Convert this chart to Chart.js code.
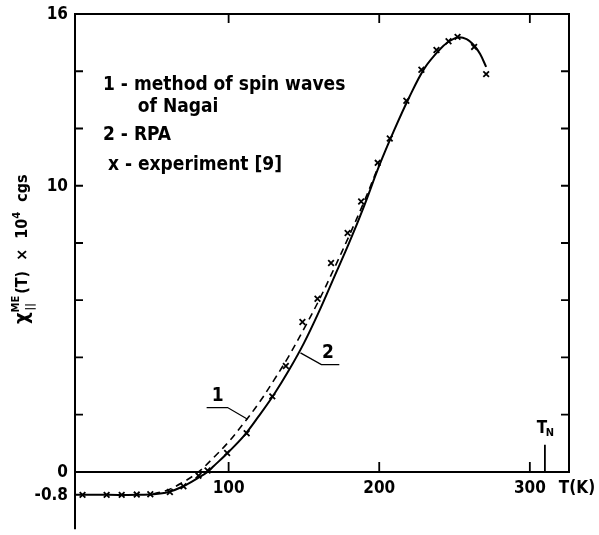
<!DOCTYPE html>
<html lang="en">
<head>
<meta charset="UTF-8">
<title>Longitudinal ME susceptibility</title>
<style>
  body { margin: 0; background: #fff; }
  canvas { display: block; }
</style>
<script src="https://cdn.jsdelivr.net/npm/chart.js"></script>
</head>
<body>
<canvas id="chi" width="599" height="535"></canvas>
<script>
// values: T in K, chi in 10^4 cgs
const expT   = [3, 19, 29, 39, 48, 61, 70, 80, 86, 99, 112, 129, 138, 149, 159, 168, 179, 188, 199, 207, 218, 228, 238, 246, 252, 263, 271];
const expChi = [-0.8, -0.8, -0.8, -0.79, -0.78, -0.7, -0.5, -0.13, 0.05, 0.66, 1.35, 2.64, 3.7, 5.24, 6.05, 7.3, 8.35, 9.45, 10.8, 11.65, 12.97, 14.05, 14.74, 15.05, 15.2, 14.85, 13.9];

// curve 2 - RPA (solid)
const rpaT   = [-2, 20, 40, 50, 60, 70, 80, 86, 90, 100, 110, 120, 130, 140, 150, 160, 170, 180, 190, 200, 210, 220, 230, 240, 246, 252, 258, 263, 267, 271];
const rpaChi = [-0.8, -0.8, -0.8, -0.78, -0.7, -0.5, -0.2, 0, 0.2, 0.7, 1.25, 1.95, 2.7, 3.55, 4.5, 5.6, 6.8, 8.0, 9.3, 10.7, 11.95, 13.1, 14.1, 14.75, 15.03, 15.18, 15.12, 14.9, 14.6, 14.15];

// curve 1 - spin waves of Nagai (dashed)
const swT   = [50, 60, 70, 80, 90, 100, 110, 120, 130, 140, 150, 160, 170, 180, 190, 200];
const swChi = [-0.77, -0.62, -0.35, 0, 0.5, 1.05, 1.7, 2.4, 3.2, 4.05, 5.0, 6.0, 7.1, 8.25, 9.45, 10.75];

const yTicks  = [2, 4, 6, 8, 10, 12, 14];
const yLabels = ['16', '10', '0', '-0.8'];
const xTicks  = [100, 200, 300];
const xLabels = ['100', '200', '300'];
const tNeel = 310;

const legendLines = [
  '1 - method of spin waves',
  'of Nagai',
  '2 - RPA',
  'x - experiment [9]'
];

const xMin = -2, xMax = 326, yMin = -2, yMax = 16;
const pts = (xs, ys) => xs.map((v, i) => ({ x: v, y: ys[i] }));

const FONT = '"DejaVu Sans Condensed", "DejaVu Sans", sans-serif';

const decor = {
  id: 'decor',
  afterDatasetsDraw(chart) {
    const { ctx, scales: { x, y } } = chart;
    const X = v => x.getPixelForValue(v), Y = v => y.getPixelForValue(v);
    ctx.save();
    ctx.strokeStyle = '#000';
    ctx.fillStyle = '#000';
    ctx.lineWidth = 2;

    // frame: left axis runs down to -2, box closes at chi = 0
    ctx.beginPath();
    ctx.moveTo(X(xMin), Y(yMin));
    ctx.lineTo(X(xMin), Y(yMax));
    ctx.lineTo(X(xMax), Y(yMax));
    ctx.lineTo(X(xMax), Y(0));
    ctx.lineTo(X(xMin), Y(0));
    ctx.stroke();

    // inward ticks
    ctx.lineWidth = 1.8;
    ctx.beginPath();
    yTicks.forEach(v => {
      ctx.moveTo(X(xMin), Y(v)); ctx.lineTo(X(xMin) + 8, Y(v));
      ctx.moveTo(X(xMax), Y(v)); ctx.lineTo(X(xMax) - 8, Y(v));
    });
    xTicks.forEach(v => {
      ctx.moveTo(X(v), Y(yMax)); ctx.lineTo(X(v), Y(yMax) + 9);
      ctx.moveTo(X(v), Y(0)); ctx.lineTo(X(v), Y(0) - 10);
    });
    ctx.moveTo(X(tNeel), Y(0)); ctx.lineTo(X(tNeel), Y(0.95));
    ctx.stroke();

    // tick labels
    ctx.font = 'bold 17px ' + FONT;
    ctx.textAlign = 'right';
    ctx.textBaseline = 'middle';
    yLabels.forEach(s => ctx.fillText(s, X(xMin) - 7, Y(parseFloat(s)) + 1));
    ctx.textAlign = 'center';
    xLabels.forEach(s => ctx.fillText(s, X(parseFloat(s)), Y(0) + 17));
    ctx.fillText('T(K)', 577, Y(0) + 17);

    // T_N marker
    ctx.fillText('T', X(tNeel) - 3, Y(1.5));
    ctx.font = 'bold 11px ' + FONT;
    ctx.fillText('N', X(tNeel) + 5, Y(1.5) + 4);

    // legend text
    ctx.font = 'bold 19px ' + FONT;
    ctx.textAlign = 'left';
    ctx.fillText(legendLines[0], X(16.6), Y(13.5));
    ctx.fillText(legendLines[1], X(39.7), Y(12.76));
    ctx.fillText(legendLines[2], X(16.6), Y(11.76));
    ctx.fillText(legendLines[3], X(19.9), Y(10.72));

    // curve labels with leaders
    ctx.textAlign = 'center';
    ctx.fillText('1', X(92.7), Y(2.64));
    ctx.fillText('2', X(166), Y(4.15));
    ctx.lineWidth = 1.3;
    ctx.beginPath();
    ctx.moveTo(X(85.4), Y(2.25)); ctx.lineTo(X(99.3), Y(2.25)); ctx.lineTo(X(112.6), Y(1.84));
    ctx.moveTo(X(173.5), Y(3.75)); ctx.lineTo(X(161.6), Y(3.75)); ctx.lineTo(X(147.7), Y(4.16));
    ctx.stroke();

    // rotated y title: chi_||^ME(T) x 10^4 cgs
    ctx.translate(22, 244);
    ctx.rotate(-Math.PI / 2);
    ctx.textAlign = 'left';
    ctx.textBaseline = 'middle';
    let cx = -80;
    ctx.font = 'bold 20px ' + FONT;
    ctx.fillText('χ', cx, 1);
    cx += ctx.measureText('χ').width;
    ctx.font = 'bold 11px ' + FONT;
    ctx.fillText('ME', cx, -6);
    ctx.fillText('||', cx + 2, 8);
    cx += ctx.measureText('ME').width + 2;
    ctx.font = 'bold 16px ' + FONT;
    const mid = '(T)  ×  10';
    ctx.fillText(mid, cx, 1);
    cx += ctx.measureText(mid).width;
    ctx.font = 'bold 11px ' + FONT;
    ctx.fillText('4', cx, -5);
    cx += ctx.measureText('4').width;
    ctx.font = 'bold 16px ' + FONT;
    ctx.fillText('  cgs', cx, 1);
    ctx.restore();
  }
};

new Chart(document.getElementById('chi'), {
  type: 'scatter',
  data: {
    datasets: [
      {
        label: 'RPA',
        data: pts(rpaT, rpaChi),
        showLine: true,
        borderColor: '#000',
        borderWidth: 2,
        pointRadius: 0,
        tension: 0.35
      },
      {
        label: 'spin waves',
        data: pts(swT, swChi),
        showLine: true,
        borderColor: '#000',
        borderWidth: 1.6,
        borderDash: [7, 5],
        pointRadius: 0,
        tension: 0.35
      },
      {
        label: 'experiment',
        data: pts(expT, expChi),
        showLine: false,
        pointStyle: 'crossRot',
        pointRadius: 4,
        borderColor: '#000',
        borderWidth: 1.8
      }
    ]
  },
  options: {
    responsive: false,
    animation: false,
    events: [],
    layout: { padding: { left: 75, right: 30, top: 14, bottom: 1 } },
    plugins: { legend: { display: false }, tooltip: { enabled: false } },
    scales: {
      x: { type: 'linear', min: xMin, max: xMax, display: false },
      y: { type: 'linear', min: yMin, max: yMax, display: false }
    }
  },
  plugins: [decor]
});
</script>
</body>
</html>
